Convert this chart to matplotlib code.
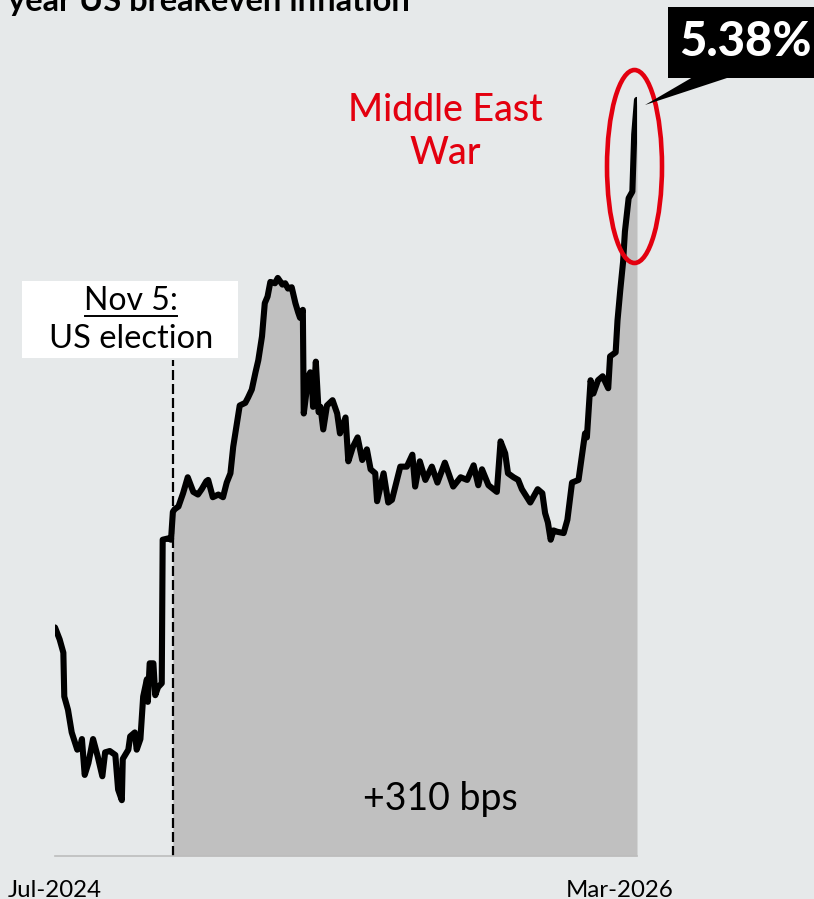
import matplotlib
matplotlib.use('Agg')
import matplotlib.pyplot as plt
from matplotlib.patches import Rectangle, Ellipse, Polygon
import numpy as np

plt.rcParams['font.family'] = ['Lato', 'DejaVu Sans']

W, H = 814, 899   # output size in pixels

START = np.datetime64('2024-07-01')
ELECTION_DAY = 127   # Nov 5, 2024

# days since START and breakeven level (%)
day_offset = [0, 5, 9, 10, 14, 18, 24, 27, 29, 32, 36, 41, 46, 51, 54, 59, 65, 68, 72, 73,
              79, 81, 86, 88, 92, 95, 99, 100, 102, 106, 108, 111, 115, 116, 122, 125, 127, 129, 133, 138,
              143, 149, 154, 158, 163, 165, 170, 176, 181, 185, 189, 192, 196, 199, 205, 208, 212, 216, 219, 223,
              226, 229, 232, 237, 240, 245, 248, 251, 255, 259, 262, 264, 267, 268, 273, 275, 277, 278, 281, 284,
              286, 289, 293, 299, 304, 307, 313, 316, 321, 326, 331, 336, 340, 345, 347, 354, 359, 363, 372, 379,
              385, 388, 393, 399, 406, 412, 420, 429, 437, 444, 451, 456, 460, 467, 476, 480, 485, 488, 494, 499,
              503, 512, 520, 525, 528, 531, 534, 537, 541, 548, 552, 557, 564, 566, 571, 573, 577, 580, 585, 590,
              596, 598, 604, 606, 609, 612, 614, 618, 622, 624, 627]
breakeven = [1.41, 1.32, 1.22, 0.89, 0.79, 0.62, 0.49, 0.51, 0.57, 0.30, 0.39, 0.57, 0.44, 0.29, 0.47, 0.48, 0.45, 0.19, 0.11, 0.42,
             0.49, 0.59, 0.62, 0.49, 0.57, 0.89, 1.02, 0.85, 1.14, 1.14, 0.90, 0.96, 0.99, 2.07, 2.08, 2.07, 2.28, 2.30, 2.32, 2.42,
             2.54, 2.43, 2.41, 2.45, 2.51, 2.52, 2.39, 2.41, 2.39, 2.50, 2.57, 2.77, 2.95, 3.08, 3.10, 3.14, 3.20, 3.33, 3.42, 3.60,
             3.85, 3.90, 4.01, 4.00, 4.04, 3.99, 4.00, 3.96, 3.97, 3.85, 3.78, 3.74, 3.80, 3.02, 3.30, 3.33, 3.22, 3.07, 3.41, 3.03,
             3.07, 2.90, 3.08, 3.12, 3.02, 2.87, 2.99, 2.66, 2.77, 2.84, 2.67, 2.75, 2.60, 2.57, 2.36, 2.57, 2.35, 2.37, 2.62, 2.62,
             2.71, 2.47, 2.66, 2.52, 2.62, 2.50, 2.65, 2.47, 2.54, 2.52, 2.63, 2.48, 2.60, 2.48, 2.43, 2.81, 2.72, 2.57, 2.54, 2.52,
             2.45, 2.35, 2.45, 2.42, 2.27, 2.20, 2.07, 2.14, 2.13, 2.12, 2.22, 2.50, 2.52, 2.62, 2.87, 2.84, 3.27, 3.17, 3.27, 3.30,
             3.21, 3.45, 3.48, 3.72, 3.95, 4.16, 4.39, 4.64, 4.69, 5.12, 5.38]

tick_dates = ['2024-07-01', '2026-03-01']
tick_labels = ['Jul-2024', 'Mar-2026']

YMIN, YMAX = -0.31, 5.68

BG = '#e6e9ea'
FILL = '#c0c0c0'
RED = '#e3000f'


def fx(px):
    return px / W


def fy(py):
    return 1 - py / H


dates = START + np.array(day_offset).astype('timedelta64[D]')
values = np.array(breakeven)
election = START + np.timedelta64(ELECTION_DAY, 'D')

last_value = values[-1]
election_value = values[day_offset.index(ELECTION_DAY)]
change_bps = round((last_value - election_value) * 100)

fig = plt.figure(figsize=(W / 100, H / 100), dpi=100, facecolor=BG)
ax = fig.add_axes([fx(55), fy(856), fx(637) - fx(55), fy(60) - fy(856)])
ax.set_facecolor(BG)

# shaded area since the election
mask = np.array(day_offset) >= ELECTION_DAY
ax.fill_between(dates[mask], values[mask], YMIN, color=FILL, lw=0, zorder=1)
ax.plot(dates, values, color='black', lw=4.4, solid_joinstyle='round', solid_capstyle='round', zorder=3)

# election marker
ax.plot([election, election], [YMIN, 3.42], color='black', lw=1.6, dashes=(4.5, 1.8), zorder=2)

ax.set_xlim(dates[0], dates[-1])
ax.set_ylim(YMIN, YMAX)
ax.set_yticks([])
ax.set_xticks(np.array(tick_dates, dtype='datetime64[D]'))
ax.set_xticklabels(tick_labels)
ax.tick_params(axis='x', length=0, pad=17, labelsize=17.3)
for side in ['top', 'left', 'right']:
    ax.spines[side].set_visible(False)
ax.spines['bottom'].set_color('#bdbdbd')
ax.spines['bottom'].set_linewidth(1.2)

# title, running off the top edge
fig.text(fx(8), fy(11), 'year US breakeven inflation', fontsize=23.5, fontweight='bold',
         ha='left', va='baseline')

# election label box
fig.patches.append(Rectangle((fx(22), fy(358)), fx(238) - fx(22), fy(281) - fy(358),
                             transform=fig.transFigure, facecolor='white', edgecolor='none'))
fig.text(fx(131), fy(310), 'Nov 5:', fontsize=23, ha='center', va='baseline')
fig.lines.append(plt.Line2D([fx(85), fx(177)], [fy(316), fy(316)], transform=fig.transFigure,
                            color='black', lw=1.4))
fig.text(fx(131), fy(348), 'US election', fontsize=23.5, ha='center', va='baseline')

# war annotation
fig.text(fx(445), fy(121), 'Middle East', fontsize=27, fontweight='medium', color=RED,
         ha='center', va='baseline')
fig.text(fx(445), fy(164), 'War', fontsize=27, fontweight='medium', color=RED,
         ha='center', va='baseline')
fig.patches.append(Ellipse((fx(634.5), fy(166.5)), 55 / W, 193 / H, transform=fig.transFigure,
                           fill=False, edgecolor=RED, lw=3.3))

# last value callout
fig.patches.append(Polygon([(fx(693), fy(77)), (fx(730), fy(77)), (fx(645), fy(105))],
                           closed=True, transform=fig.transFigure, facecolor='black', edgecolor='none'))
fig.patches.append(Rectangle((fx(668), fy(78)), fx(814) - fx(668), fy(7) - fy(78),
                             transform=fig.transFigure, facecolor='black', edgecolor='none'))
fig.text(fx(745), fy(42), f'{last_value:.2f}%', fontsize=34, fontweight='black', color='white',
         ha='center', va='center')

fig.text(fx(440), fy(810), f'+{change_bps} bps', fontsize=27, ha='center', va='baseline')

fig.savefig('out.png', dpi=100, facecolor=BG)
